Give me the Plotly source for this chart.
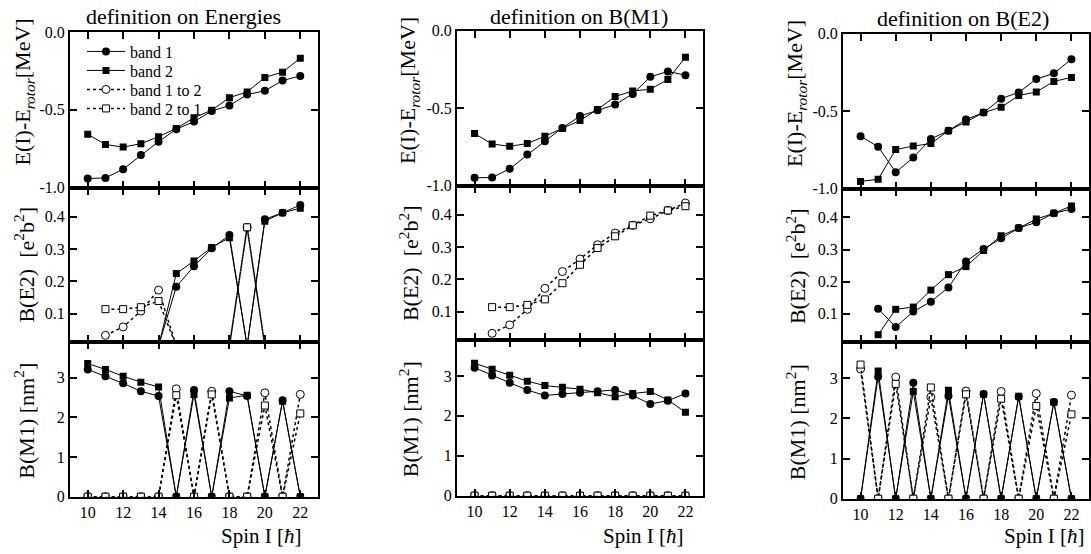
import plotly.graph_objects as go

spin = [10, 11, 12, 13, 14, 15, 16, 17, 18, 19, 20, 21, 22]

# ---- definition on Energies ----
en_E_b1 = [-0.942, -0.938, -0.882, -0.791, -0.705, -0.625, -0.576, -0.508, -0.473, -0.402, -0.378, -0.312, -0.282]
en_E_b2 = [-0.658, -0.723, -0.740, -0.718, -0.673, -0.620, -0.551, -0.503, -0.422, -0.385, -0.292, -0.258, -0.168]
en_BE2_b1 = [None, 0, 0, 0, 0, 0.183, 0.247, 0.302, 0.343, 0, 0.392, 0.412, 0.436]
en_BE2_b2 = [None, 0, 0, 0, 0, 0.224, 0.263, 0.305, 0.335, 0, 0.386, 0.412, 0.426]
en_BE2_12 = [None, 0.033, 0.059, 0.108, 0.173, 0, 0, 0, 0, 0.367, 0, 0, 0]
en_BE2_21 = [None, 0.114, 0.114, 0.120, 0.139, 0, 0, 0, 0, 0.367, 0, 0, 0]
en_BM1_b1 = [3.21, 3.04, 2.86, 2.66, 2.54, 0, 2.69, 0, 2.66, 2.54, 0, 2.43, 0]
en_BM1_b2 = [3.36, 3.21, 3.04, 2.89, 2.77, 0, 2.58, 0, 2.49, 2.56, 0, 2.41, 0]
en_BM1_12 = [0, 0, 0, 0, 0, 2.72, 0, 2.66, 0, 0, 2.62, 0, 2.58]
en_BM1_21 = [0, 0, 0, 0, 0, 2.56, 0, 2.58, 0, 0, 2.30, 0, 2.10]

# ---- definition on B(M1) ----
m1_E_b1 = [-0.950, -0.948, -0.892, -0.800, -0.714, -0.628, -0.552, -0.515, -0.478, -0.409, -0.299, -0.264, -0.288]
m1_E_b2 = [-0.665, -0.732, -0.747, -0.729, -0.682, -0.632, -0.580, -0.509, -0.426, -0.390, -0.379, -0.316, -0.173]
m1_BE2_b1 = [None, 0, 0, 0, 0, 0, 0, 0, 0, 0, 0, 0, 0]
m1_BE2_b2 = [None, 0, 0, 0, 0, 0, 0, 0, 0, 0, 0, 0, 0]
m1_BE2_12 = [None, 0.033, 0.059, 0.107, 0.172, 0.224, 0.263, 0.307, 0.343, 0.367, 0.387, 0.413, 0.436]
m1_BE2_21 = [None, 0.114, 0.114, 0.121, 0.138, 0.188, 0.245, 0.297, 0.333, 0.367, 0.397, 0.413, 0.426]
m1_BM1_b1 = [3.21, 3.01, 2.83, 2.65, 2.51, 2.55, 2.58, 2.62, 2.65, 2.51, 2.30, 2.38, 2.56]
m1_BM1_b2 = [3.32, 3.17, 3.02, 2.87, 2.76, 2.72, 2.67, 2.58, 2.48, 2.56, 2.61, 2.40, 2.09]
m1_BM1_12 = [0, 0, 0, 0, 0, 0, 0, 0, 0, 0, 0, 0, 0]
m1_BM1_21 = [0, 0, 0, 0, 0, 0, 0, 0, 0, 0, 0, 0, 0]

# ---- definition on B(E2) ----
e2_E_b1 = [-0.662, -0.730, -0.895, -0.800, -0.680, -0.627, -0.555, -0.510, -0.420, -0.380, -0.294, -0.257, -0.166]
e2_E_b2 = [-0.954, -0.940, -0.748, -0.726, -0.710, -0.627, -0.570, -0.510, -0.476, -0.400, -0.377, -0.309, -0.283]
e2_BE2_b1 = [None, 0.116, 0.059, 0.107, 0.138, 0.182, 0.263, 0.302, 0.335, 0.367, 0.385, 0.413, 0.426]
e2_BE2_b2 = [None, 0.035, 0.114, 0.121, 0.174, 0.222, 0.247, 0.297, 0.343, 0.367, 0.395, 0.413, 0.436]
e2_BE2_12 = [None, 0, 0, 0, 0, 0, 0, 0, 0, 0, 0, 0, 0]
e2_BE2_21 = [None, 0, 0, 0, 0, 0, 0, 0, 0, 0, 0, 0, 0]
e2_BM1_b1 = [0, 3.04, 0, 2.89, 0, 2.56, 0, 2.61, 0, 2.54, 0, 2.41, 0]
e2_BM1_b2 = [0, 3.18, 0, 2.67, 0, 2.70, 0, 2.60, 0, 2.55, 0, 2.40, 0]
e2_BM1_12 = [3.23, 0, 3.03, 0, 2.53, 0, 2.68, 0, 2.67, 0, 2.62, 0, 2.58]
e2_BM1_21 = [3.34, 0, 2.86, 0, 2.77, 0, 2.60, 0, 2.49, 0, 2.31, 0, 2.10]

col_titles = ["definition on Energies", "definition on B(M1)", "definition on B(E2)"]
series_names = ["band 1", "band 2", "band 1 to 2", "band 2 to 1"]

panels = [
    [[en_E_b1, en_E_b2], [en_BE2_b1, en_BE2_b2, en_BE2_12, en_BE2_21], [en_BM1_b1, en_BM1_b2, en_BM1_12, en_BM1_21]],
    [[m1_E_b1, m1_E_b2], [m1_BE2_b1, m1_BE2_b2, m1_BE2_12, m1_BE2_21], [m1_BM1_b1, m1_BM1_b2, m1_BM1_12, m1_BM1_21]],
    [[e2_E_b1, e2_E_b2], [e2_BE2_b1, e2_BE2_b2, e2_BE2_12, e2_BE2_21], [e2_BM1_b1, e2_BM1_b2, e2_BM1_12, e2_BM1_21]],
]

W, H = 1091, 554
FONT = "Liberation Serif, Times New Roman, Times, serif"

# pixel boxes of the panels (as measured on the original picture)
col_x = [(70, 318), (457, 703), (843, 1089)]
row_y = [[32.5, 188, 342.5, 497], [31, 186, 340.5, 496], [34, 189, 342.5, 499]]

# the page photo squeezes the figure a little vertically; undo that
SQ, OFF = 0.969, 8.5


def fx(p):
    return p / W


def fy(p):
    return 1 - ((p - OFF) / SQ) / H


styles = [
    dict(mode="lines+markers", line=dict(color="black", width=1),
         marker=dict(symbol="circle", size=8, color="black")),
    dict(mode="lines+markers", line=dict(color="black", width=1),
         marker=dict(symbol="square", size=7, color="black")),
    dict(mode="lines+markers", line=dict(color="black", width=1.5, dash="dot"),
         marker=dict(symbol="circle", size=8, color="white", line=dict(color="black", width=1))),
    dict(mode="lines+markers", line=dict(color="black", width=1.5, dash="dot"),
         marker=dict(symbol="square", size=7, color="white", line=dict(color="black", width=1))),
]

y_ranges = [[-1.0, 0.0], [0.012, 0.49], [0, 3.9]]
y_ticks = [[-1.0, -0.5, 0.0], [0.1, 0.2, 0.3, 0.4], [0, 1, 2, 3]]
y_ticktext = [["-1.0", "-0.5", "0.0"], ["0.1", "0.2", "0.3", "0.4"], ["0", "1", "2", "3"]]
y_titles = ["E(I)-E<sub><i>rotor</i></sub>[MeV]", "B(E2)  [e<sup>2</sup>b<sup>2</sup>]", "B(M1) [nm<sup>2</sup>]"]

fig = go.Figure()
layout = {}
annotations = []

n = 0
for c in range(3):
    for r in range(3):
        n += 1
        xa = "x" if n == 1 else f"x{n}"
        ya = "y" if n == 1 else f"y{n}"
        # draw order: dotted first so that solid bands sit on top
        for k in [2, 3, 0, 1]:
            if k >= len(panels[c][r]):
                continue
            fig.add_trace(go.Scatter(
                x=spin, y=panels[c][r][k], name=series_names[k],
                xaxis=xa, yaxis=ya, showlegend=False,
                **styles[k]))
        axis_common = dict(showline=True, linecolor="black", linewidth=2, mirror="allticks",
                           ticks="inside", ticklen=7, tickwidth=2, tickcolor="black",
                           showgrid=False, zeroline=False,
                           tickfont=dict(family=FONT, size=16, color="black"))
        layout["xaxis" if n == 1 else f"xaxis{n}"] = dict(
            domain=[fx(col_x[c][0]), fx(col_x[c][1])], anchor=ya, range=[9, 23],
            tickvals=[10, 12, 14, 16, 18, 20, 22], showticklabels=(r == 2),
            **axis_common)
        top, bot = row_y[c][r], row_y[c][r + 1]
        layout["yaxis" if n == 1 else f"yaxis{n}"] = dict(
            domain=[fy(bot), fy(top)], anchor=xa, range=y_ranges[r],
            tickvals=y_ticks[r], ticktext=y_ticktext[r], **axis_common)

# legend: one small legend per entry so the rows can be spaced like the original
legend_rows = [52, 71, 90, 109]
for k in range(4):
    lg = "legend" if k == 0 else f"legend{k + 1}"
    fig.add_trace(go.Scatter(x=[None], y=[None], name=series_names[k], xaxis="x", yaxis="y",
                             showlegend=True, legend=lg, **styles[k]))
    layout[lg] = dict(x=fx(82), y=fy(legend_rows[k]), xanchor="left", yanchor="middle",
                      bgcolor="rgba(0,0,0,0)", itemwidth=38,
                      font=dict(family=FONT, size=16, color="black"))

# titles and axis labels
title_x = [184, 579, 963]
title_y = [17, 17, 19]
ytitle_x = [24, 409, 796]
ytitle_y = [93, 265, 421]
spin_x = [261, 643, 1044]
for c in range(3):
    annotations.append(dict(text=col_titles[c], x=fx(title_x[c]), y=fy(title_y[c]),
                            xref="paper", yref="paper", showarrow=False, xanchor="center", yanchor="middle",
                            font=dict(family=FONT, size=22, color="black")))
    for r in range(3):
        annotations.append(dict(text=y_titles[r], x=fx(ytitle_x[c]), y=fy(ytitle_y[r] + (row_y[c][0] - 32.5)),
                                xref="paper", yref="paper", showarrow=False, textangle=-90,
                                xanchor="center", yanchor="middle",
                                font=dict(family=FONT, size=22, color="black")))
    annotations.append(dict(text="Spin I [<i>ħ</i>]", x=fx(spin_x[c]), y=fy(536),
                            xref="paper", yref="paper", showarrow=False, xanchor="center", yanchor="middle",
                            font=dict(family=FONT, size=21, color="black")))

fig.update_layout(
    width=W, height=H,
    margin=dict(l=0, r=0, t=0, b=0),
    paper_bgcolor="white", plot_bgcolor="white",
    showlegend=True,
    annotations=annotations,
    **layout,
)

pin_page = ("var d=document.getElementById('{plot_id}');"
            "d.style.position='fixed';d.style.top='0px';d.style.left='0px';"
            "document.body.style.margin='0';document.body.style.overflow='hidden';"
            "document.documentElement.style.overflow='hidden';")
fig.write_html("out.html", config={"displayModeBar": False}, post_script=pin_page)
